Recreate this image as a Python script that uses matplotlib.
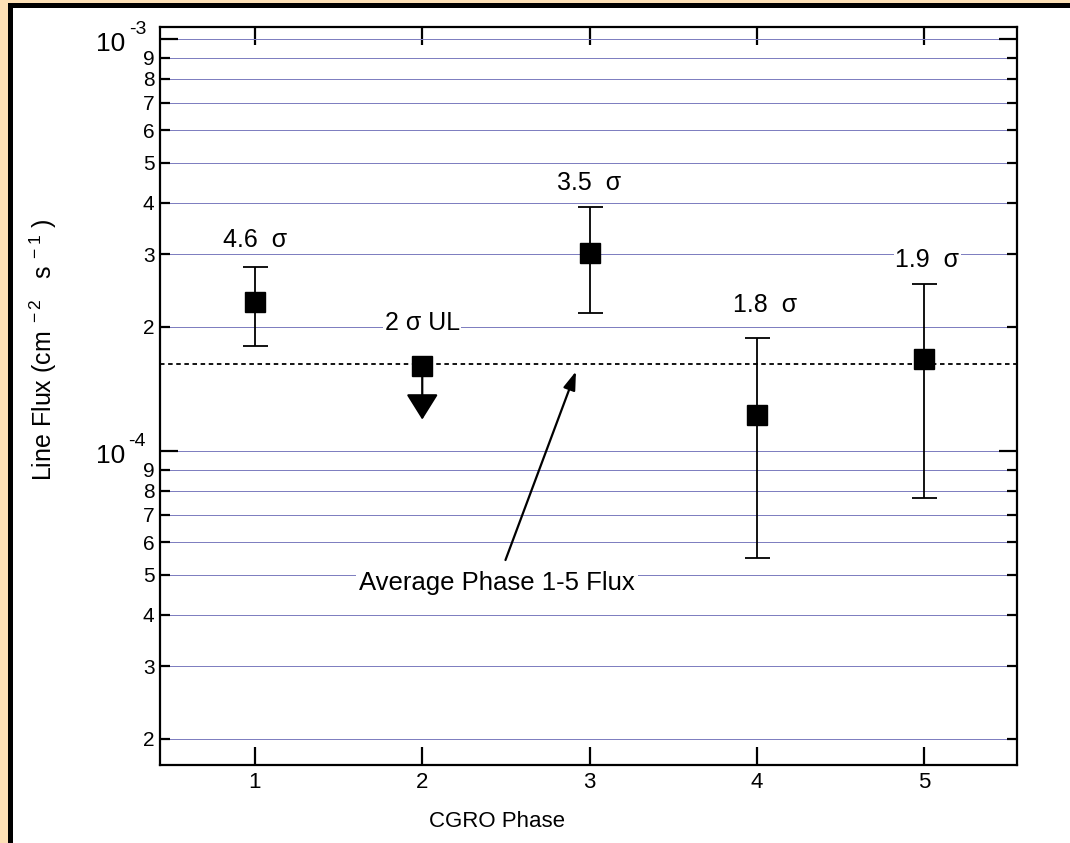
import numpy as np
import matplotlib
matplotlib.use('Agg')
import matplotlib.pyplot as plt
from matplotlib.patches import Rectangle
from matplotlib.ticker import LogLocator, FuncFormatter, FixedLocator, NullFormatter

plt.rcParams['font.family'] = ['Liberation Sans', 'DejaVu Sans']
plt.rcParams['mathtext.fontset'] = 'custom'
plt.rcParams['mathtext.rm'] = 'Liberation Sans'
plt.rcParams['mathtext.it'] = 'Liberation Sans:italic'

# data
phase = [1, 3, 4, 5]
flux = [2.30e-4, 3.03e-4, 1.22e-4, 1.67e-4]
flux_hi = [2.80e-4, 3.91e-4, 1.88e-4, 2.54e-4]
flux_lo = [1.80e-4, 2.16e-4, 5.50e-5, 7.69e-5]

ul_phase = 2
ul_flux = 1.61e-4
avg_flux = 1.63e-4

sig_labels = ['4.6  σ', '2 σ UL', '3.5  σ', '1.8  σ', '1.9  σ']
sig_x = [1.0, 2.0, 3.0, 4.05, 5.02]
sig_y = [3.25e-4, 2.05e-4, 4.47e-4, 2.26e-4, 2.91e-4]

decades = [1e-4, 1e-3]
decade_exp = ['-4', '-3']

fig = plt.figure(figsize=(10.70, 8.43), dpi=100)
fig.patch.set_facecolor('#fde0b6')
W, H = 1070.0, 843.0
fig.patches.append(Rectangle((8 / W, 0), 1, 840 / H, transform=fig.transFigure,
                             facecolor='black', edgecolor='none', zorder=-2))
fig.patches.append(Rectangle((13 / W, 0), 1, 835 / H, transform=fig.transFigure,
                             facecolor='white', edgecolor='none', zorder=-1))

ax = fig.add_axes([160 / W, 78 / H, 857 / W, 738 / H])
ax.set_yscale('log')
ax.set_xlim(0.432, 5.556)
ax.set_ylim(1.729e-5, 1.069e-3)

# grid at every decade and sub-decade
ax.yaxis.set_major_locator(FixedLocator(decades))
ax.yaxis.set_minor_locator(LogLocator(base=10, subs=np.arange(2, 10)))


def minor_fmt(v, pos):
    e = np.floor(np.log10(v) + 1e-9)
    return '%d' % round(v / 10 ** e)


ax.yaxis.set_major_formatter(NullFormatter())
ax.yaxis.set_minor_formatter(FuncFormatter(minor_fmt))
ax.set_xticks([1, 2, 3, 4, 5])

# decade labels drawn by hand: "10" with a raised hyphen exponent
ytr = ax.get_yaxis_transform()
for d, ex in zip(decades, decade_exp):
    ax.annotate('10', xy=(0, d), xycoords=ytr, xytext=(-25, -3.5),
                textcoords='offset points', ha='right', va='center', fontsize=19)
    ax.annotate(ex, xy=(0, d), xycoords=ytr, xytext=(-10, 6.5),
                textcoords='offset points', ha='right', va='center', fontsize=14)

ax.grid(True, which='both', axis='y', color='#7f7fc0', lw=0.72, antialiased=False)
ax.set_axisbelow(True)

for s in ax.spines.values():
    s.set_linewidth(1.6)
ax.tick_params(axis='both', which='both', direction='in', top=True, right=True, width=1.6)
ax.tick_params(axis='y', which='major', length=13)
ax.tick_params(axis='y', which='minor', length=7, labelsize=15, pad=4)
ax.tick_params(axis='x', which='major', length=13, labelsize=16, pad=5)

# error bars
yerr = [np.array(flux) - np.array(flux_lo), np.array(flux_hi) - np.array(flux)]
ax.errorbar(phase, flux, yerr=yerr, fmt='s', color='black', ms=14,
            capsize=9, elinewidth=1.3, capthick=1.3, zorder=5)

# upper limit
ax.plot([ul_phase], [ul_flux], 's', color='black', ms=14, zorder=5)
ax.annotate('', xy=(ul_phase, ul_flux * 0.74), xytext=(ul_phase, ul_flux),
            arrowprops=dict(arrowstyle='-|>,head_length=1.6,head_width=1.0',
                            color='black', lw=1.6, shrinkA=0, shrinkB=0),
            zorder=5)

ax.axhline(avg_flux, color='black', ls=(0, (2.5, 2)), lw=1.3, zorder=3)

for lab, x, y in zip(sig_labels, sig_x, sig_y):
    ax.text(x, y, lab, ha='center', va='center', fontsize=18,
            bbox=dict(facecolor='white', edgecolor='none', pad=1), zorder=4)

ax.annotate('Average Phase 1-5 Flux', xy=(2.919, 1.56e-4), xytext=(2.447, 4.79e-5),
            ha='center', va='center', fontsize=18.5,
            bbox=dict(facecolor='white', edgecolor='none', pad=2),
            arrowprops=dict(arrowstyle='-|>,head_length=0.6,head_width=0.2',
                            color='black', lw=1.6, shrinkA=6, shrinkB=0),
            zorder=4)

ax.set_xlabel('CGRO Phase', fontsize=16)
ax.xaxis.set_label_coords(0.393, -0.062)
ax.set_ylabel(r'Line Flux (cm$^{\mathregular{\ -2}}$   s$^{\mathregular{\ -1}}$ )', fontsize=18)
ax.yaxis.set_label_coords(-0.118, 0.562)

fig.savefig('out.png', dpi=100, facecolor=fig.get_facecolor())
